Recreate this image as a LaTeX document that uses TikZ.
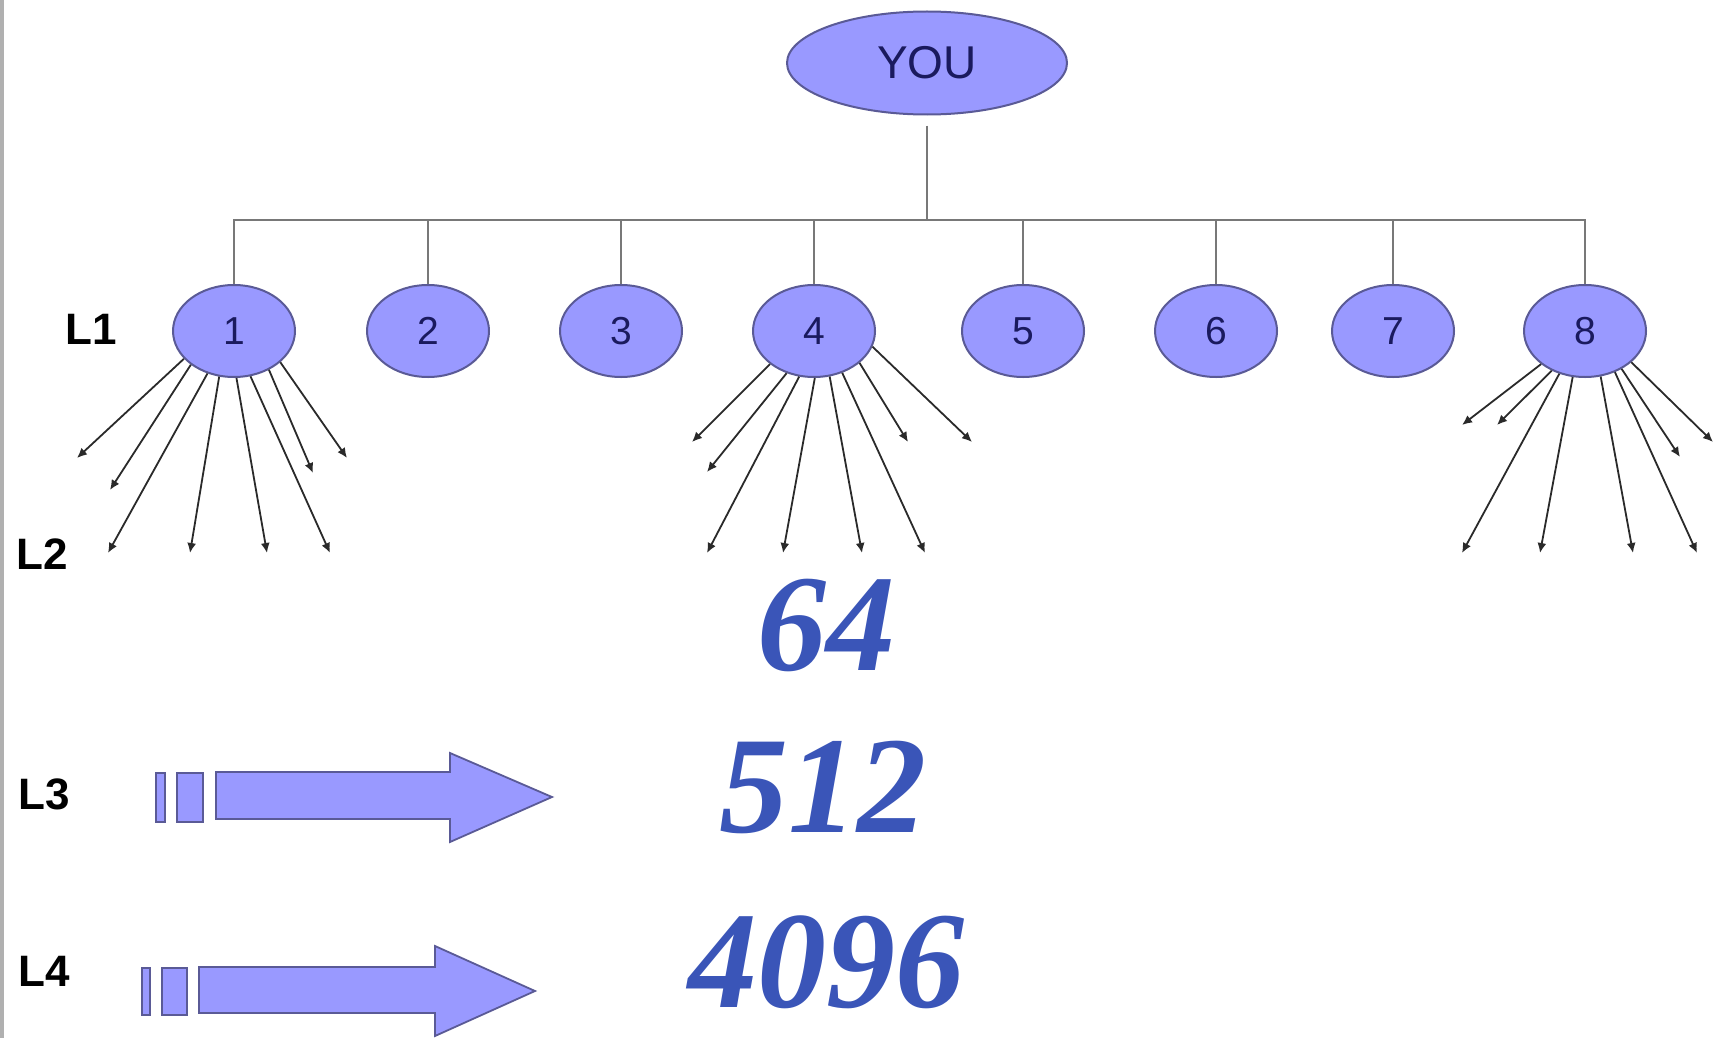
\documentclass[tikz,border=0pt]{standalone}
\usepackage{fontspec}
\usetikzlibrary{shapes.geometric,arrows.meta}
\newfontfamily\sansfnt{Liberation Sans}
\newfontfamily\seriffnt{Liberation Serif}
\definecolor{nodefill}{HTML}{9999FF}
\definecolor{nodeedge}{HTML}{5A5A96}
\definecolor{nodetext}{HTML}{1A1A5E}
\definecolor{treegrey}{HTML}{787878}
\definecolor{fangrey}{HTML}{2A2A2A}
\definecolor{numblue}{HTML}{3A55B8}
\definecolor{stripgrey}{HTML}{B0B0B0}
\begin{document}
\begin{tikzpicture}[x=0.5pt,y=-0.5pt,
  lvl/.style={ellipse, draw=nodeedge, line width=1pt, fill=nodefill,
    minimum width=61pt, minimum height=46pt, inner sep=0pt,
    font=\sansfnt\fontsize{19.5}{20}\selectfont, text=nodetext},
  youbox/.style={lvl, minimum width=140pt, minimum height=51.5pt,
    font=\sansfnt\fontsize{23}{24}\selectfont},
  tree/.style={draw=treegrey, line width=1.4pt},
  fan/.style={draw=fangrey, line width=0.9pt, -{Latex[length=5pt,width=4.5pt]}},
  lab/.style={font=\sansfnt\bfseries\fontsize{22}{23}\selectfont, text=black, inner sep=0pt},
  num/.style={font=\seriffnt\bfseries\itshape\fontsize{69}{70}\selectfont, text=numblue, inner sep=0pt},
  blk/.style={draw=nodeedge, line width=0.9pt, fill=nodefill}
]
\useasboundingbox (0,0) rectangle (1727,1038);
\fill[white] (0,0) rectangle (1727,1038);
\fill[stripgrey] (0,0) rectangle (4,1038);

% root
\node[youbox] (you) at (927,63) {YOU};
\coordinate (bar) at (927,220);

% level 1
\node[lvl] (n1) at (234,331) {1};
\node[lvl] (n2) at (428,331) {2};
\node[lvl] (n3) at (621,331) {3};
\node[lvl] (n4) at (814,331) {4};
\node[lvl] (n5) at (1023,331) {5};
\node[lvl] (n6) at (1216,331) {6};
\node[lvl] (n7) at (1393,331) {7};
\node[lvl] (n8) at (1585,331) {8};

% tree connectors
\draw[tree, shorten <=5pt] (you.south) -- (bar);
\foreach \k in {1,...,8} \draw[tree] (bar) -| (n\k.north);

% fans
\foreach \a/\x/\y [count=\i] in {209/77/458, 218/110/490, 238.5/108/553, 252.6/190/553,
    273.4/267/553, 290.4/330/553, 312.7/313/473, 326.9/347/458}{
  \coordinate (n1e\i) at (\x,\y);
  \draw[fan] (n1.\a) -- (n1e\i);
}
\foreach \a/\x/\y [count=\i] in {217.5/692/442, 237.7/707/472, 252.6/707/553, 271/783/553,
    289.4/862/553, 304.8/925/553, 325.2/908/442, 345.6/972/442}{
  \coordinate (n4e\i) at (\x,\y);
  \draw[fan] (n4.\a) -- (n4e\i);
}
\foreach \a/\x/\y [count=\i] in {217.5/1462/425, 230.2/1497/425, 239.5/1462/553, 255.7/1540/553,
    289.4/1633/553, 306.7/1697/553, 314.3/1680/457, 326.8/1713/442}{
  \coordinate (n8e\i) at (\x,\y);
  \draw[fan] (n8.\a) -- (n8e\i);
}

% level labels
\node[lab] (l1) at (91,329) {L1};
\node[lab] (l2) at (42,554) {L2};
\node[lab] (l3) at (44,794) {L3};
\node[lab] (l4) at (44,971) {L4};

% block arrows
\draw[blk] (156,773) rectangle (165,822);
\draw[blk] (177,773) rectangle (203,822);
\draw[blk] (216,772) -- (450,772) -- (450,753) -- (552,797) -- (450,842) -- (450,819) -- (216,819) -- cycle;

\draw[blk] (142,968) rectangle (150,1015);
\draw[blk] (162,968) rectangle (187,1015);
\draw[blk] (199,967) -- (435,967) -- (435,946) -- (535,991) -- (435,1036) -- (435,1013) -- (199,1013) -- cycle;

% numbers
\node[num] (v64) at (826,625) {64};
\node[num] (v512) at (823,787) {512};
\node[num] (v4096) at (826,962) {4096};
\end{tikzpicture}
\end{document}
